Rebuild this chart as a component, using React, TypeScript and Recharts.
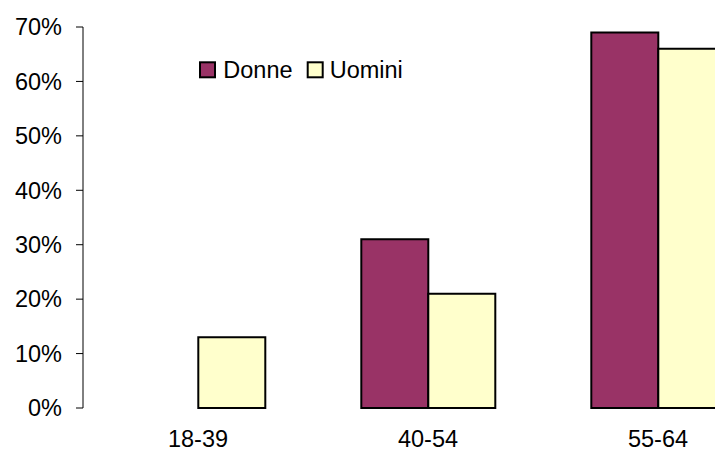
import { BarChart, Bar, XAxis, YAxis, Legend } from 'recharts';

const categories = ['18-39', '40-54', '55-64'];
const donne = [null, 31, 69];
const uomini = [13, 21, 66];
const yTicks = [0, 10, 20, 30, 40, 50, 60, 70];

const DONNE = '#993366';
const UOMINI = '#FFFFCC';
const FONT = '"Liberation Sans", Arial, sans-serif';
const FS = 23.5;

const data = categories.map((c, i) => ({ fascia: c, Donne: donne[i], Uomini: uomini[i] }));

const YTick = ({ x, y, payload }: any) => (
  <text x={x} y={y + 8.3} textAnchor="end" fontSize={FS} fontFamily={FONT} fill="#000">{payload.value}%</text>
);

// labels sit right at the bottom edge, as in the reference
const XTick = ({ x, y, payload }: any) => (
  <text x={x} y={y + 38.5} textAnchor="middle" fontSize={FS} fontFamily={FONT} fill="#000">{payload.value}</text>
);

// legend drawn as small svg, placed where the reference has it
const LegendBox = () => (
  <svg width={260} height={34} style={{ display: 'block', overflow: 'visible' }}>
    {[{ name: 'Donne', color: DONNE, x: 0 }, { name: 'Uomini', color: UOMINI, x: 107.7 }].map(s => (
      <g key={s.name} transform={`translate(${s.x},0)`}>
        <rect x={4} y={3.3} width={15} height={15} fill={s.color} stroke="#000" strokeWidth={2} />
        <text x={s.x ? 26 : 27.3} y={19} fontSize={FS} fontFamily={FONT} fill="#000">{s.name}</text>
      </g>
    ))}
  </svg>
);

export default function App() {
  return (
    <div style={{ position: 'absolute', left: 0, top: 0, width: 715, height: 452, overflow: 'hidden', background: '#fff' }}>
      <BarChart width={780} height={460} data={data} margin={{ top: 27, right: 7, bottom: 0, left: 0 }}
        barCategoryGap="21%" barGap={0}>
        <XAxis dataKey="fascia" axisLine={false} tickLine={false} tickSize={0} tickMargin={0}
          height={52} tick={<XTick />} interval={0} />
        <YAxis domain={[0, 70]} ticks={yTicks} width={83} tickSize={7} tickMargin={14}
          stroke="#000" axisLine={{ stroke: '#000' }} tickLine={{ stroke: '#000' }} tick={<YTick />} />
        <Legend layout="vertical" align="center" verticalAlign="middle" content={<LegendBox />}
          wrapperStyle={{ left: 196, top: 59, width: 260, height: 34, overflow: 'visible' }} />
        <Bar dataKey="Donne" fill={DONNE} stroke="#000" strokeWidth={2} isAnimationActive={false} />
        <Bar dataKey="Uomini" fill={UOMINI} stroke="#000" strokeWidth={2} isAnimationActive={false} />
      </BarChart>
    </div>
  );
}
